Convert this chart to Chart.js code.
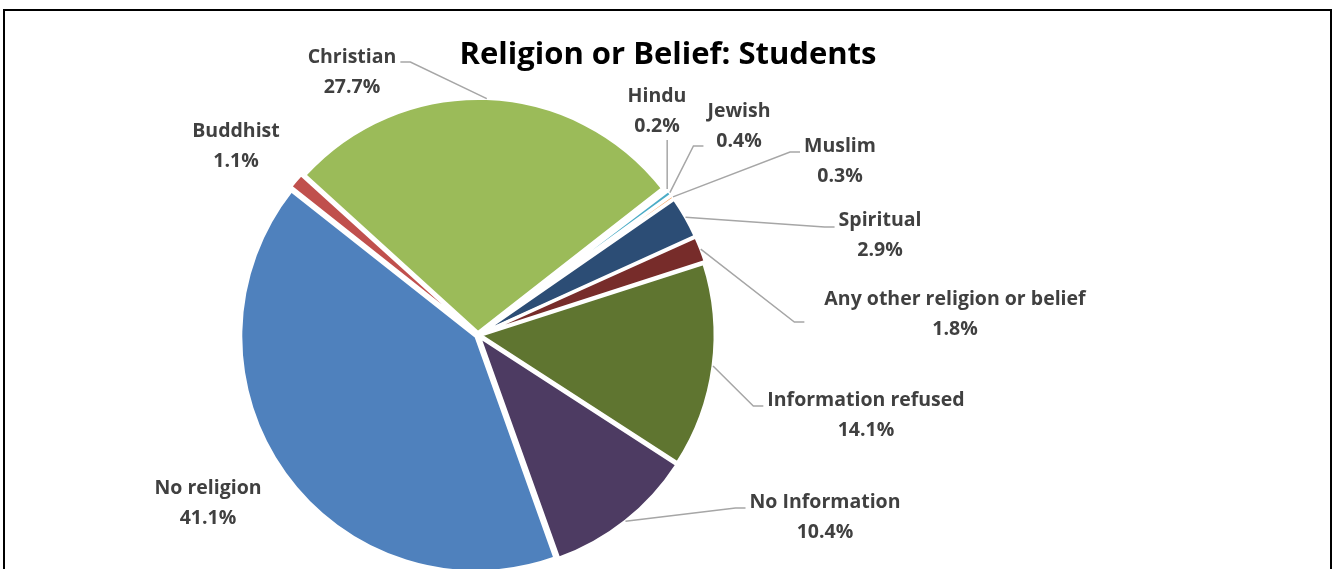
<!DOCTYPE html>
<html>
<head>
<meta charset="utf-8">
<title>Religion or Belief: Students</title>
<script src="https://cdn.jsdelivr.net/npm/chart.js@4.4.1/dist/chart.umd.min.js"></script>
<style>
  html, body { margin: 0; padding: 0; background: #fff; }
  #wrap { position: relative; width: 1341px; height: 569px; }
</style>
</head>
<body>
<div id="wrap"><canvas id="beliefChart"></canvas></div>
<script>
// Share of students by religion or belief (%)
const categories = ['Buddhist', 'Christian', 'Hindu', 'Jewish', 'Muslim', 'Spiritual',
    'Any other religion or belief', 'Information refused', 'No Information', 'No religion'];
const shares = [1.1, 27.7, 0.2, 0.4, 0.3, 2.9, 1.8, 14.1, 10.4, 41.1];
const sliceColors = ['#C0504D', '#9BBB59', '#8064A2', '#4BACC6', '#F79646',
    '#2C4D75', '#772C2A', '#5F7530', '#4D3B62', '#4F81BD'];

// label layout: [centre x, centre y of the name line, leader line?, leader start dx, dy]
const labelSpots = [
    [236, 131, false, 0, 0],
    [352, 57, true, 0, 5],
    [657, 96, true, 0, 0],
    [739, 111, true, 0, 35],
    [840, 146, true, 0, 6],
    [880, 220, true, 0, 7],
    [955, 299, true, -16, 23],
    [866, 400, true, 0, 6],
    [825, 502, true, 0, 6],
    [208, 488, false, 0, 0]
];

const LABEL_FONT = 'bold 19.5px "Open Sans"';
const LINE_GAP = 30;

const beliefLabels = {
    id: 'beliefLabels',
    afterDatasetsDraw(chart) {
        const ctx = chart.ctx;
        const meta = chart.getDatasetMeta(0);
        const off = chart.data.datasets[0].offset || 0;
        ctx.save();
        ctx.font = LABEL_FONT;
        ctx.textAlign = 'center';
        ctx.textBaseline = 'middle';

        meta.data.forEach((arc, i) => {
            const [lx, ly, leader, adx, ady] = labelSpots[i];
            const name = categories[i];
            const value = shares[i].toFixed(1) + '%';

            if (leader) {
                // same push-out that ArcElement applies when it draws an offset slice
                const mid = (arc.startAngle + arc.endAngle) / 2;
                const push = off / 4 * (2 - Math.sin(Math.min(Math.PI, arc.circumference)));
                const r = arc.outerRadius + push;
                const px = arc.x + Math.cos(mid) * r;
                const py = arc.y + Math.sin(mid) * r;
                const w = ctx.measureText(name).width;
                const left = lx - w / 2, right = lx + w / 2;

                ctx.beginPath();
                if (px > left && px < right) {
                    ctx.moveTo(px, ly + LINE_GAP + 14);
                    ctx.lineTo(px, py);
                } else if (px <= left) {
                    const sx = left - 4 + adx, sy = ly + ady;
                    ctx.moveTo(sx, sy);
                    ctx.lineTo(sx - 10, sy);
                    ctx.lineTo(px, py);
                } else {
                    const sx = right + 4 - adx, sy = ly + ady;
                    ctx.moveTo(sx, sy);
                    ctx.lineTo(sx + 10, sy);
                    ctx.lineTo(px, py);
                }
                ctx.strokeStyle = '#A6A6A6';
                ctx.lineWidth = 1.5;
                ctx.stroke();
            }

            ctx.fillStyle = '#404040';
            ctx.fillText(name, lx, ly);
            ctx.fillText(value, lx, ly + LINE_GAP);
        });
        ctx.restore();
    },
    afterDraw(chart) {
        const ctx = chart.ctx;
        ctx.save();
        // chart frame
        ctx.strokeStyle = '#000';
        ctx.lineWidth = 2;
        ctx.strokeRect(4, 10, 1327, 700);
        // title
        ctx.fillStyle = '#000';
        ctx.font = 'bold 31px "Open Sans"';
        ctx.textAlign = 'center';
        ctx.textBaseline = 'middle';
        ctx.fillText('Religion or Belief: Students', 668, 55);
        ctx.restore();
    }
};

new Chart(document.getElementById('beliefChart'), {
    type: 'pie',
    data: {
        labels: categories,
        datasets: [{
            data: shares,
            backgroundColor: sliceColors,
            borderColor: '#ffffff',
            borderWidth: 3,
            offset: 10,
            radius: 234
        }]
    },
    options: {
        responsive: true,
        maintainAspectRatio: false,
        animation: false,
        rotation: -51.7,
        layout: { padding: { top: 101, right: 385, left: 0, bottom: 0 } },
        plugins: {
            legend: { display: false },
            tooltip: { enabled: false },
            title: { display: false }
        }
    },
    plugins: [beliefLabels]
});
</script>
</body>
</html>
